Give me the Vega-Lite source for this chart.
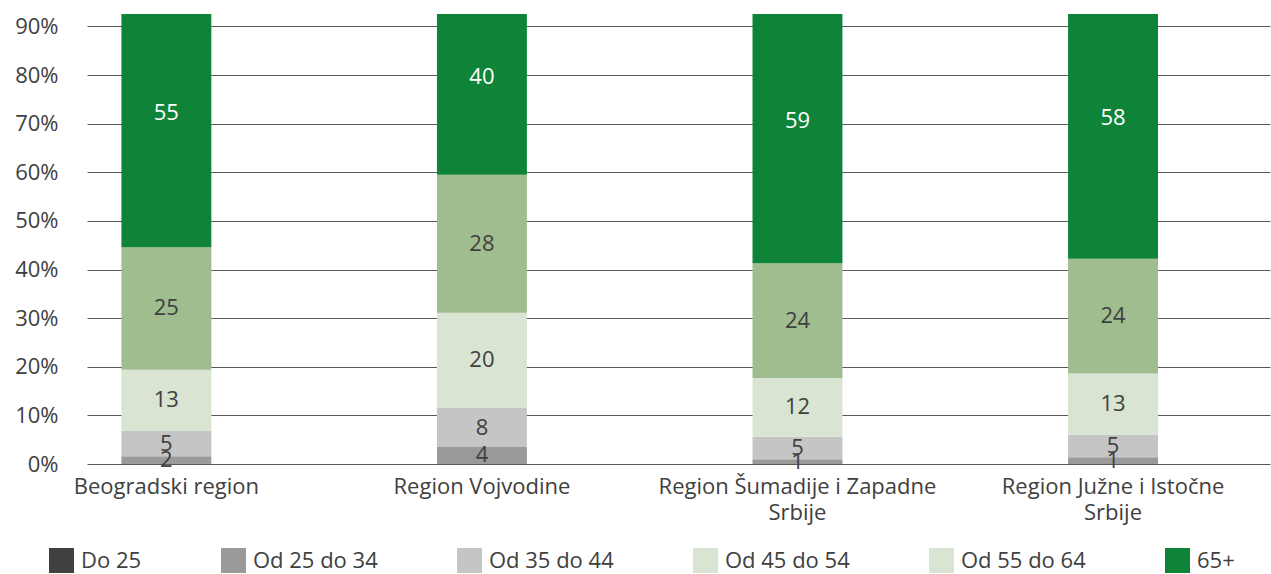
{
  "$schema": "https://vega.github.io/schema/vega-lite/v6.json",
  "autosize": "none",
  "width": 1183,
  "height": 450,
  "padding": {"left": 87, "top": 14, "right": 1, "bottom": 110},
  "background": "white",
  "config": {"view": {"stroke": null}, "font": "Open Sans"},
  "data": {
    "values": [
      {"region": "Beogradski region", "group": "Do 25", "rank": 1, "value": 0},
      {"region": "Beogradski region", "group": "Od 25 do 34", "rank": 2, "value": 1.6},
      {"region": "Beogradski region", "group": "Od 35 do 44", "rank": 3, "value": 5.2},
      {"region": "Beogradski region", "group": "Od 45 do 54", "rank": 4, "value": 12.6},
      {"region": "Beogradski region", "group": "Od 55 do 64", "rank": 5, "value": 25.2},
      {"region": "Beogradski region", "group": "65+", "rank": 6, "value": 55.4},
      {"region": "Region Vojvodine", "group": "Do 25", "rank": 1, "value": 0},
      {"region": "Region Vojvodine", "group": "Od 25 do 34", "rank": 2, "value": 3.5},
      {"region": "Region Vojvodine", "group": "Od 35 do 44", "rank": 3, "value": 8.0},
      {"region": "Region Vojvodine", "group": "Od 45 do 54", "rank": 4, "value": 19.6},
      {"region": "Region Vojvodine", "group": "Od 55 do 64", "rank": 5, "value": 28.4},
      {"region": "Region Vojvodine", "group": "65+", "rank": 6, "value": 40.3},
      {"region": "Region Šumadije i Zapadne Srbije", "group": "Do 25", "rank": 1, "value": 0},
      {"region": "Region Šumadije i Zapadne Srbije", "group": "Od 25 do 34", "rank": 2, "value": 1.0},
      {"region": "Region Šumadije i Zapadne Srbije", "group": "Od 35 do 44", "rank": 3, "value": 4.6},
      {"region": "Region Šumadije i Zapadne Srbije", "group": "Od 45 do 54", "rank": 4, "value": 12.1},
      {"region": "Region Šumadije i Zapadne Srbije", "group": "Od 55 do 64", "rank": 5, "value": 23.6},
      {"region": "Region Šumadije i Zapadne Srbije", "group": "65+", "rank": 6, "value": 58.7},
      {"region": "Region Južne i Istočne Srbije", "group": "Do 25", "rank": 1, "value": 0},
      {"region": "Region Južne i Istočne Srbije", "group": "Od 25 do 34", "rank": 2, "value": 1.4},
      {"region": "Region Južne i Istočne Srbije", "group": "Od 35 do 44", "rank": 3, "value": 4.6},
      {"region": "Region Južne i Istočne Srbije", "group": "Od 45 do 54", "rank": 4, "value": 12.6},
      {"region": "Region Južne i Istočne Srbije", "group": "Od 55 do 64", "rank": 5, "value": 23.6},
      {"region": "Region Južne i Istočne Srbije", "group": "65+", "rank": 6, "value": 57.8}
    ]
  },
  "transform": [
    {"stack": "value", "groupby": ["region"], "sort": [{"field": "rank", "order": "ascending"}], "as": ["v0", "v1"]},
    {"calculate": "(datum.v0 + datum.v1) / 2", "as": "vmid"}
  ],
  "encoding": {
    "x": {
      "field": "region",
      "type": "nominal",
      "sort": ["Beogradski region", "Region Vojvodine", "Region Šumadije i Zapadne Srbije", "Region Južne i Istočne Srbije"],
      "scale": {"paddingInner": 0.715, "paddingOuter": 0.232, "align": 0.235},
      "axis": {
        "title": null,
        "domain": false,
        "ticks": false,
        "labelAngle": 0,
        "labelFont": "Open Sans",
        "labelFontSize": 22,
        "labelColor": "#404040",
        "labelPadding": 12,
        "labelLimit": 0,
        "labelOverlap": false,
        "labelLineHeight": 26,
        "labelExpr": "datum.label == 'Region Šumadije i Zapadne Srbije' ? ['Region Šumadije i Zapadne', 'Srbije'] : datum.label == 'Region Južne i Istočne Srbije' ? ['Region Južne i Istočne', 'Srbije'] : datum.label"
      }
    }
  },
  "layer": [
    {
      "mark": {"type": "bar", "clip": true},
      "encoding": {
        "y": {
          "field": "v0",
          "type": "quantitative",
          "scale": {"domain": [0, 92.57], "nice": false, "zero": true},
          "axis": {
            "title": null,
            "values": [0, 10, 20, 30, 40, 50, 60, 70, 80, 90],
            "labelExpr": "datum.value + '%'",
            "domain": false,
            "ticks": false,
            "grid": true,
            "gridColor": "#595959",
            "gridWidth": 1,
            "labelFont": "Open Sans",
            "labelFontSize": 22,
            "labelColor": "#404040",
            "labelPadding": 29
          }
        },
        "y2": {"field": "v1"},
        "color": {
          "field": "group",
          "type": "nominal",
          "scale": {
            "domain": ["Do 25", "Od 25 do 34", "Od 35 do 44", "Od 45 do 54", "Od 55 do 64", "65+"],
            "range": ["#404040", "#9a9a9a", "#c5c5c5", "#d9e4d2", "#9fbd8e", "#0f8439"]
          },
          "legend": null
        }
      }
    },
    {
      "transform": [{"filter": "datum.value > 0"}],
      "mark": {"type": "text", "font": "Open Sans", "fontSize": 22, "align": "center", "baseline": "middle"},
      "encoding": {
        "y": {"field": "vmid", "type": "quantitative"},
        "text": {"field": "value", "type": "quantitative", "format": ".0f"},
        "fill": {
          "condition": {"test": "datum.group == '65+'", "value": "#ffffff"},
          "value": "#404040"
        }
      }
    },
    {
      "mark": {"type": "point", "shape": "square", "filled": true, "opacity": 0, "size": 0},
      "encoding": {
        "y": {"field": "v0", "type": "quantitative"},
        "color": {
          "field": "group",
          "type": "nominal",
          "scale": {
            "domain": ["Do 25", "Od 25 do 34", "Od 35 do 44", "Od 45 do 54", "Od 55 do 64", "65+"],
            "range": ["#404040", "#9a9a9a", "#c5c5c5", "#d9e4d2", "#d9e4d2", "#0f8439"]
          },
          "legend": {
            "title": null,
            "orient": "none",
            "legendX": -38,
            "legendY": 534,
            "direction": "horizontal",
            "columns": 6,
            "gridAlign": "none",
            "columnPadding": 79,
            "padding": 0,
            "symbolType": "square",
            "symbolSize": 625,
            "symbolOpacity": 1,
            "symbolStrokeWidth": 0,
            "labelFont": "Open Sans",
            "labelFontSize": 22,
            "labelColor": "#404040",
            "labelOffset": 7,
            "labelLimit": 300
          }
        }
      }
    }
  ],
  "resolve": {"scale": {"color": "independent"}}
}
